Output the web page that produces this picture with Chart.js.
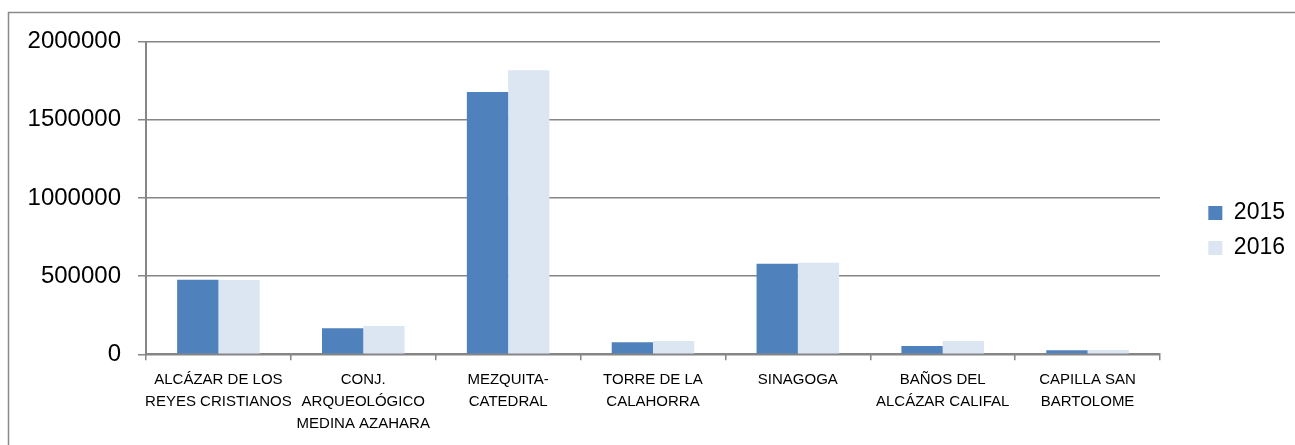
<!DOCTYPE html>
<html>
<head>
<meta charset="utf-8">
<script src="https://cdn.jsdelivr.net/npm/chart.js@4"></script>
<style>
  html, body { margin: 0; padding: 0; background: #fff; }
  #wrap { position: relative; width: 1295px; height: 445px; }
</style>
</head>
<body>
<div id="wrap"><canvas id="c" width="1295" height="445"></canvas></div>
<script>
const categories = [
  ['ALCÁZAR DE LOS', 'REYES CRISTIANOS'],
  ['CONJ.', 'ARQUEOLÓGICO', 'MEDINA AZAHARA'],
  ['MEZQUITA-', 'CATEDRAL'],
  ['TORRE DE LA', 'CALAHORRA'],
  ['SINAGOGA'],
  ['BAÑOS DEL', 'ALCÁZAR CALIFAL'],
  ['CAPILLA SAN', 'BARTOLOME']
];
const seriesNames = ['2015', '2016'];
const values2015 = [477000, 166000, 1678000, 77000, 580000, 53000, 26000];
const values2016 = [476000, 181000, 1817000, 85000, 586000, 85000, 28000];
const yTicks = [0, 500000, 1000000, 1500000, 2000000];

const GRID = '#868686';

const frame = {
  id: 'frame',
  beforeDraw(chart) {
    const ctx = chart.ctx;
    ctx.save();
    ctx.fillStyle = '#fff';
    ctx.fillRect(0, 0, chart.width, chart.height);
    ctx.strokeStyle = '#8a8a8a';
    ctx.lineWidth = 1.5;
    ctx.strokeRect(8.5, 12.5, 1400, 1000);
    ctx.restore();
  }
};

new Chart(document.getElementById('c'), {
  type: 'bar',
  data: {
    labels: categories,
    datasets: [
      { label: seriesNames[0], data: values2015, backgroundColor: '#4F81BD', borderWidth: 0 },
      { label: seriesNames[1], data: values2016, backgroundColor: '#DCE6F2', borderWidth: 0 }
    ]
  },
  options: {
    responsive: false,
    animation: false,
    events: [],
    categoryPercentage: 0.57,
    barPercentage: 1.0,
    layout: { padding: { top: 16, bottom: 0, left: 0, right: 0 } },
    plugins: {
      title: { display: true, text: '', font: { size: 10 }, padding: { top: 0, bottom: 13.7 } },
      tooltip: { enabled: false },
      legend: {
        position: 'right',
        align: 'center',
        labels: {
          boxWidth: 14,
          boxHeight: 14,
          padding: 12,
          color: '#000',
          font: { family: "'Liberation Sans', Arial, sans-serif", size: 23 }
        }
      }
    },
    scales: {
      x: {
        offset: true,
        grid: { display: true, drawOnChartArea: false, drawTicks: true, tickLength: 6, color: GRID, lineWidth: 1.5, offset: true },
        border: { display: true, color: GRID, width: 2 },
        ticks: {
          color: '#000',
          padding: 9,
          maxRotation: 0,
          autoSkip: false,
          font: { family: "'Liberation Sans', Arial, sans-serif", size: 15, lineHeight: 1.45 }
        },
        afterFit(a) { a.height = 90.7; }
      },
      y: {
        min: 0,
        max: 2000000,
        afterBuildTicks(a) { a.ticks = yTicks.map(v => ({ value: v })); },
        grid: { color: GRID, lineWidth: 1.5, tickLength: 8, drawTicks: true },
        border: { display: true, color: GRID, width: 2 },
        ticks: {
          color: '#000',
          padding: 17,
          callback: v => String(v),
          font: { family: "'Liberation Sans', Arial, sans-serif", size: 24 }
        },
        afterFit(a) { a.width = 146; }
      },
      y2: {
        type: 'linear',
        position: 'right',
        display: true,
        grid: { display: false, drawTicks: false },
        border: { display: false },
        ticks: { display: false },
        afterFit(a) { a.width = 36.35; }
      }
    }
  },
  plugins: [frame]
});
</script>
</body>
</html>
